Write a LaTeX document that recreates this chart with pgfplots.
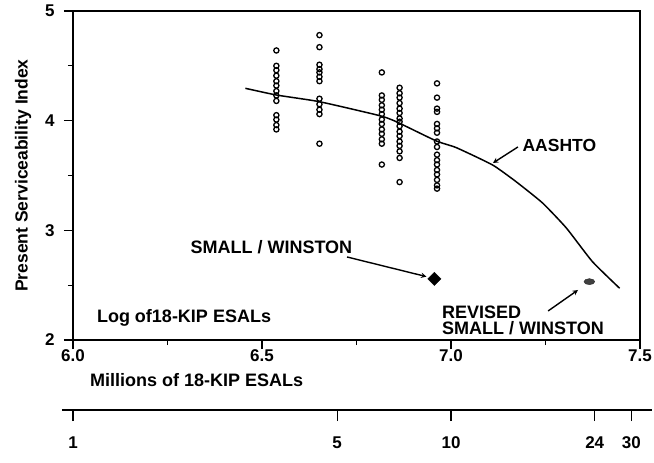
\documentclass[border=0pt]{standalone}
\usepackage{pgfplots}
\pgfplotsset{compat=1.18}
\usepackage{fontspec}
\setmainfont{Liberation Sans}
\begin{document}
\begin{tikzpicture}[font=\bfseries]
\useasboundingbox (-73pt,-123pt) rectangle (581pt,340pt);
\begin{axis}[
  scale only axis, width=567pt, height=329pt,
  xmin=6, xmax=7.5, ymin=2, ymax=5,
  xtick={6,6.5,7,7.5}, xticklabels={6.0,6.5,7.0,7.5},
  minor xtick={6.25,6.75,7.25},
  ytick={2,3,4,5}, yticklabels={2,3,4,5},
  minor ytick={2.5,3.5,4.5},
  tick align=outside, tick pos=left,
  major tick length=9pt, minor tick length=5pt,
  axis line style={line width=1.3pt},
  every tick/.style={black, line width=1.2pt},
  ticklabel style={font=\fontsize{17}{20}\selectfont\bfseries},
  xticklabel style={yshift=3pt},
  yticklabel style={xshift=-6pt},
  ylabel={Present Serviceability Index},
  ylabel style={at={(rel axis cs:-0.088,0.5)}, anchor=center, font=\fontsize{17.5}{20}\selectfont\bfseries},
  clip=false,
]
% observed sections
\addplot[only marks, mark=o, mark size=2.6pt, mark options={line width=1.3pt, black}] coordinates {
 (6.538,4.64) (6.538,4.50) (6.538,4.46) (6.538,4.41) (6.538,4.36) (6.538,4.32) (6.538,4.27)
 (6.538,4.23) (6.538,4.18) (6.538,4.05) (6.538,4.01) (6.538,3.96) (6.538,3.92)
 (6.652,4.78) (6.652,4.67) (6.652,4.51) (6.652,4.47) (6.652,4.44) (6.652,4.40) (6.652,4.36)
 (6.652,4.20) (6.652,4.15) (6.652,4.10) (6.652,4.06) (6.652,3.79)
 (6.817,4.44) (6.817,4.23) (6.817,4.19) (6.817,4.14) (6.817,4.10) (6.817,4.06) (6.817,4.01)
 (6.817,3.97) (6.817,3.92) (6.817,3.88) (6.817,3.83) (6.817,3.79) (6.817,3.60)
 (6.864,4.30) (6.864,4.25) (6.864,4.21) (6.864,4.16) (6.864,4.11) (6.864,4.07) (6.864,4.02)
 (6.864,3.99) (6.864,3.95) (6.864,3.90) (6.864,3.86) (6.864,3.81) (6.864,3.77) (6.864,3.72)
 (6.864,3.66) (6.864,3.44)
 (6.963,4.34) (6.963,4.21) (6.963,4.11) (6.963,4.08) (6.963,3.97) (6.963,3.93) (6.963,3.89)
 (6.963,3.81) (6.963,3.76) (6.963,3.69) (6.963,3.64) (6.963,3.60) (6.963,3.55) (6.963,3.51)
 (6.963,3.46) (6.963,3.41) (6.963,3.38)
};
% AASHTO curve
\addplot[black, line width=1.5pt, smooth, tension=0.3] coordinates {
 (6.456,4.295) (6.538,4.234) (6.652,4.173) (6.811,4.046) (6.855,3.991) (6.961,3.815)
 (7.014,3.754) (7.110,3.596) (7.172,3.444) (7.242,3.250) (7.305,3.022) (7.374,2.715) (7.446,2.472)
};
% Small / Winston
\addplot[only marks, mark=square*, mark size=4.7pt, mark options={rotate=45, fill=black}] coordinates {(6.956,2.557)};
% Revised Small / Winston
\addplot[only marks, mark=*, mark size=3pt, mark options={xscale=1.8, fill=black!75, draw=black!85}] coordinates {(7.366,2.532)};

\node[anchor=west, font=\fontsize{17.5}{20}\selectfont\bfseries] at (axis cs:7.180,3.778) {AASHTO};
\draw[-stealth, line width=1.4pt] (axis cs:7.177,3.760) -- (axis cs:7.111,3.614);
\node[anchor=east, font=\fontsize{18}{20}\selectfont\bfseries] at (axis cs:6.748,2.848) {SMALL / WINSTON};
\draw[-stealth, line width=1.4pt] (axis cs:6.725,2.757) -- (axis cs:6.935,2.578);
\node[anchor=west, align=left, inner sep=0pt, font=\fontsize{18}{16.5}\selectfont\bfseries] at (axis cs:6.976,2.180) {REVISED\\SMALL / WINSTON};
\draw[-stealth, line width=1.4pt] (axis cs:7.257,2.265) -- (axis cs:7.336,2.456);
\node[anchor=west, inner sep=0pt, font=\fontsize{18}{20}\selectfont\bfseries] at (axis cs:6.063,2.20) {Log of18-KIP ESALs};
\node[anchor=west, inner sep=0pt, font=\fontsize{18}{20}\selectfont\bfseries] at (axis cs:6.045,1.636) {Millions of 18-KIP ESALs};
\end{axis}
\begin{axis}[
  at={(-11pt,-70pt)}, anchor=south west,
  scale only axis, width=590.1pt, height=10pt,
  xmin=5.9709, xmax=7.532, ymin=0, ymax=1,
  axis x line*=bottom, hide y axis,
  x axis line style={-, line width=1.3pt},
  xtick={6,6.69897,7,7.38021,7.47712},
  xticklabels={1,5,10,24,30},
  tick align=outside, major tick length=11pt,
  every tick/.style={black, line width=1.2pt},
  xticklabel style={yshift=-12pt, font=\fontsize{17}{20}\selectfont\bfseries},
]
\end{axis}
\end{tikzpicture}
\end{document}
